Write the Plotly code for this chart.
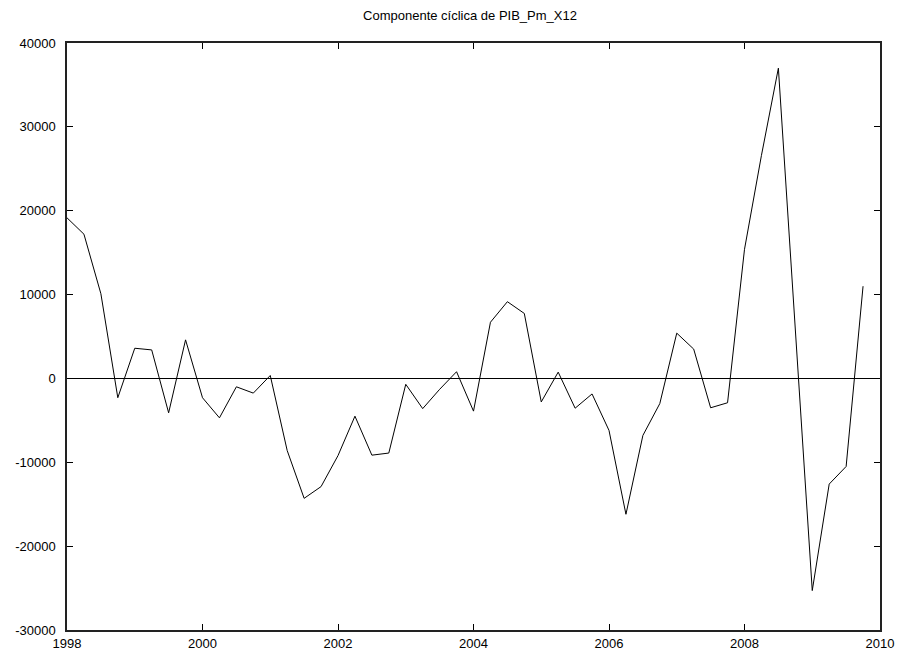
import plotly.graph_objects as go

# Quarterly dates (decimal years), 1998Q1 .. 2009Q4
years = [1998 + 0.25 * i for i in range(48)]
ciclo = [
    19150, 17200, 10100, -2300, 3600, 3400, -4100, 4600,
    -2300, -4700, -1000, -1750, 350, -8600, -14300, -12900,
    -9200, -4500, -9150, -8900, -700, -3600, -1300, 800,
    -3900, 6700, 9150, 7750, -2800, 750, -3550, -1850,
    -6200, -16200, -6800, -3000, 5400, 3500, -3500, -2900,
    15400, 26600, 37000, 6000, -25300, -12600, -10500, 11000,
]
x_ticks = [1998, 2000, 2002, 2004, 2006, 2008, 2010]
y_ticks = [-30000, -20000, -10000, 0, 10000, 20000, 30000, 40000]
title_text = "Componente cíclica de PIB_Pm_X12"

fig = go.Figure()
fig.add_trace(go.Scatter(x=years, y=ciclo, mode="lines",
                         line=dict(color="black", width=1), showlegend=False))

W, H = 904, 661
font = dict(family="Liberation Sans, Arial, sans-serif", size=13, color="black")
fig.update_layout(
    width=W, height=H,
    margin=dict(l=67, r=24, t=43, b=31),
    paper_bgcolor="white", plot_bgcolor="white",
    font=font,
    title=dict(text=title_text, x=470 / W, xanchor="center", y=1 - 15 / H,
               yanchor="middle", font=dict(family=font["family"], size=13, color="black")),
    xaxis=dict(range=[1998, 2010], tickvals=x_ticks, ticktext=[str(v) for v in x_ticks],
               ticks="inside", ticklen=6, tickcolor="black", tickwidth=1,
               showline=True, linecolor="#222222", linewidth=1.5, mirror="allticks",
               showgrid=False, zeroline=False, tickfont=font, ticklabelstandoff=1,
               automargin=False),
    yaxis=dict(range=[-30000, 40000], tickvals=y_ticks, ticktext=[str(v) for v in y_ticks],
               ticks="inside", ticklen=6, tickcolor="black", tickwidth=1,
               showline=True, linecolor="#222222", linewidth=1.5, mirror="allticks",
               showgrid=False, zeroline=True, zerolinecolor="black", zerolinewidth=1,
               tickfont=font, ticklabelstandoff=7, automargin=False),
)
fig.write_html(
    "out.html",
    config={"displayModeBar": False},
    post_script="document.body.style.margin='0';document.body.style.overflow='hidden';",
)
